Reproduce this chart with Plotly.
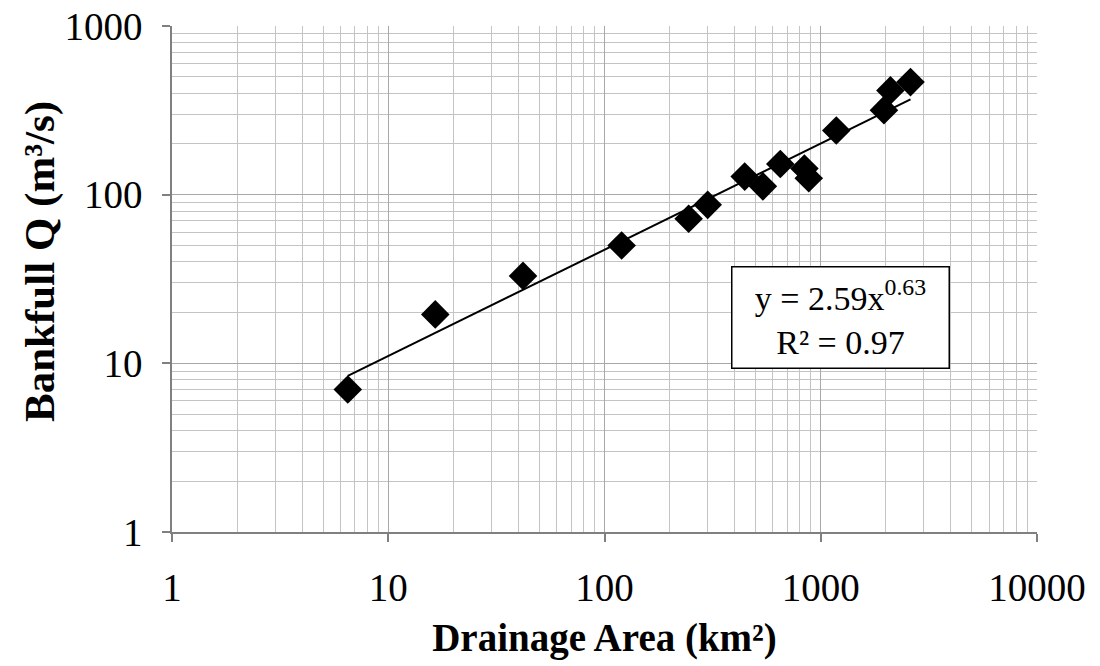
import numpy as np
import plotly.graph_objects as go

# Data
drainage_area = [6.5, 16.5, 42, 120, 245, 300, 445, 540, 650, 840, 880, 1180, 1960, 2100, 2600]
bankfull_q = [7.0, 19.5, 33, 50, 72, 87, 128, 112, 152, 143, 125, 240, 317, 415, 465]

# Power-law trendline coefficients shown on chart
coef_a = 2.59
coef_b = 0.63
r_squared = 0.97

x_tickvals = [1, 10, 100, 1000, 10000]
x_ticktext = ["1", "10", "100", "1000", "10000"]
y_tickvals = [1, 10, 100, 1000]
y_ticktext = ["1", "10", "100", "1000"]

x_minor = [m * 10 ** k for k in range(0, 4) for m in range(2, 10)]
y_minor = [m * 10 ** k for k in range(0, 3) for m in range(2, 10)]

trend_x = sorted(drainage_area)
trend_y = [coef_a * v ** coef_b for v in trend_x]

FONT = "Liberation Serif"

fig = go.Figure()
fig.add_trace(go.Scatter(
    x=trend_x, y=trend_y, mode="lines",
    line=dict(color="black", width=2), showlegend=False, hoverinfo="skip"))
fig.add_trace(go.Scatter(
    x=drainage_area, y=bankfull_q, mode="markers",
    marker=dict(symbol="diamond", size=22, color="black"), showlegend=False))

axis_common = dict(
    type="log",
    automargin=False,
    ticklabeloverflow="allow",
    showline=True, linecolor="#808080", linewidth=1.5,
    ticks="outside", ticklen=8, tickcolor="#808080", tickwidth=1.5,
    showgrid=True, gridcolor="#a8a8a8", gridwidth=1.3,
    zeroline=False, mirror=False,
    tickfont=dict(family=FONT, size=39, color="black"),
)

fig.update_xaxes(
    **axis_common,
    range=[0, 4],
    tickvals=x_tickvals, ticktext=x_ticktext,
    minor=dict(tickvals=x_minor, showgrid=True, gridcolor="#c4c4c4", gridwidth=1, ticks=""),
    ticklabelstandoff=12,
    title=dict(text="<b>Drainage Area (km²)</b>",
               font=dict(family=FONT, size=39, color="black"), standoff=16),
)
fig.update_yaxes(
    **axis_common,
    range=[0, 3],
    tickvals=y_tickvals, ticktext=y_ticktext,
    minor=dict(tickvals=y_minor, showgrid=True, gridcolor="#c4c4c4", gridwidth=1, ticks=""),
    ticklabelstandoff=12,
)

# y-axis title placed as a rotated annotation to match reference position
fig.add_annotation(
    x=-0.1526, y=0.5336, xref="paper", yref="paper",
    text="<b>Bankfull Q (m³/s)</b>", textangle=-90, showarrow=False,
    xanchor="center", yanchor="middle",
    font=dict(family=FONT, size=43, color="black"),
)

fig.add_annotation(
    x=np.log10(1240), y=np.log10(18.8), xref="x", yref="y",
    text=f"y = {coef_a}x<sup>{coef_b}</sup><br>R² = {r_squared}",
    showarrow=False, align="center",
    font=dict(family=FONT, size=34, color="black"),
    bgcolor="white", bordercolor="black", borderwidth=1.5, borderpad=2,
    width=212, height=96,
)

fig.update_layout(
    width=1100, height=666,
    margin=dict(l=164, r=71, t=18, b=142),
    plot_bgcolor="white", paper_bgcolor="white",
)

fig.write_html("out.html")
